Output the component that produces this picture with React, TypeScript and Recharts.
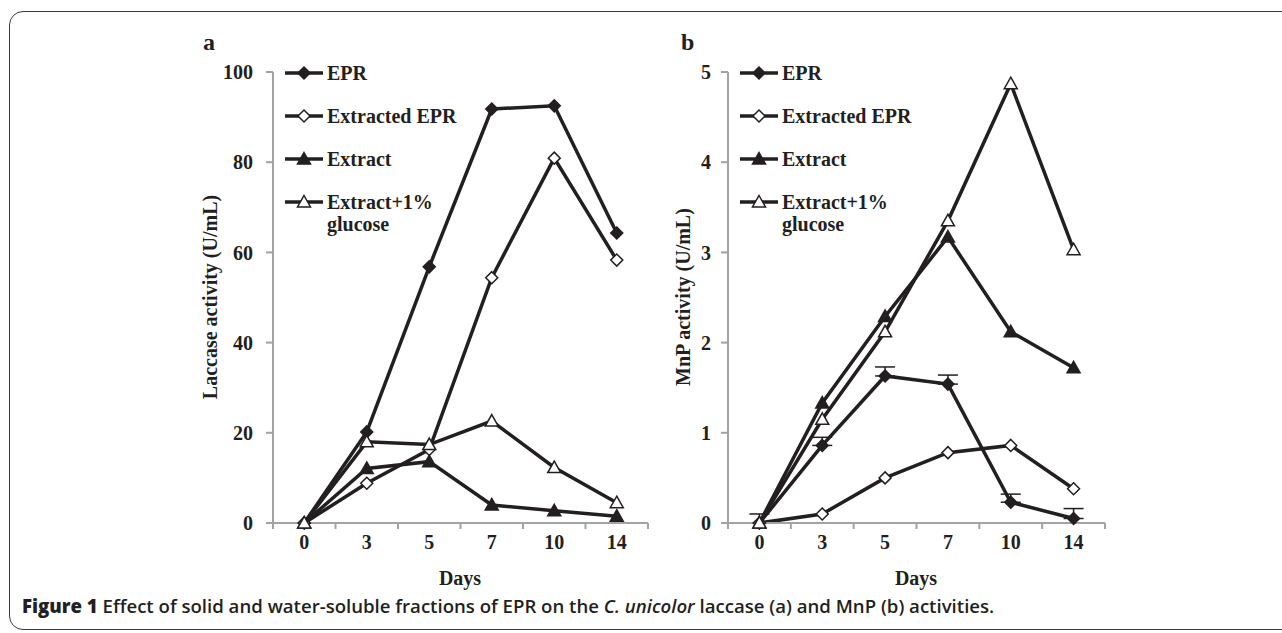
import { ErrorBar, Line, LineChart, XAxis, YAxis } from "recharts";

// Day categories shared by both panels
const days = ["0", "3", "5", "7", "10", "14"];
const seriesNames = ["EPR", "Extracted EPR", "Extract", "Extract+1%\nglucose"];

// (a) laccase activity, U/mL
const laccEpr = [0, 20.2, 56.8, 91.8, 92.5, 64.3];
const laccExtractedEpr = [0, 8.8, 16.3, 54.4, 80.9, 58.3];
const laccExtract = [0, 12.1, 13.6, 4.0, 2.7, 1.5];
const laccGlucose = [0, 18.0, 17.4, 22.6, 12.3, 4.5];
const laccTicks = [0, 20, 40, 60, 80, 100];

// (b) MnP activity, U/mL
const mnpEpr = [0, 0.86, 1.63, 1.54, 0.23, 0.05];
const mnpEprErr = [0.1, 0.09, 0.1, 0.1, 0.09, 0.11];
const mnpExtractedEpr = [0, 0.1, 0.5, 0.78, 0.86, 0.38];
const mnpExtract = [0, 1.33, 2.29, 3.17, 2.12, 1.72];
const mnpGlucose = [0, 1.15, 2.12, 3.35, 4.87, 3.03];
const mnpTicks = [0, 1, 2, 3, 4, 5];

const INK = "#231f20";
const AXIS = "#a3a3a3";
const serif = { fontFamily: "'Liberation Serif', 'Times New Roman', serif", fontWeight: 700 };

const keys = ["epr", "extracted", "extract", "glucose"];
const markers = ["diamond", "diamondOpen", "triangle", "triangleOpen"];

const laccData = days.map((day, i) => ({
  i,
  day,
  epr: laccEpr[i],
  extracted: laccExtractedEpr[i],
  extract: laccExtract[i],
  glucose: laccGlucose[i],
}));

const mnpData = days.map((day, i) => ({
  i,
  day,
  epr: mnpEpr[i],
  eprErr: [0, mnpEprErr[i]],
  extracted: mnpExtractedEpr[i],
  extract: mnpExtract[i],
  glucose: mnpGlucose[i],
}));

// boundaries between categories get tick marks, centres get labels
const xTicks = days.flatMap((_, i) => [i - 0.5, i]).concat(days.length - 0.5);

function Marker({ kind, cx, cy }: { kind: string; cx: number; cy: number }) {
  const open = kind.endsWith("Open");
  const fill = open ? "#fff" : INK;
  if (kind.startsWith("diamond")) {
    const r = 6;
    return (
      <polygon
        points={`${cx},${cy - r} ${cx + r},${cy} ${cx},${cy + r} ${cx - r},${cy}`}
        fill={fill}
        stroke={INK}
        strokeWidth={1.5}
      />
    );
  }
  return (
    <polygon
      points={`${cx},${cy - 6.5} ${cx + 6.5},${cy + 5} ${cx - 6.5},${cy + 5}`}
      fill={fill}
      stroke={INK}
      strokeWidth={1.5}
    />
  );
}

const dotFor = (kind: string) => (p: any) =>
  <Marker key={`${kind}-${p.index}`} kind={kind} cx={p.cx} cy={p.cy} />;

const DayTick = ({ x, y, payload }: any) => {
  const v = payload.value;
  if (!Number.isInteger(v)) {
    return <line x1={x} x2={x} y1={y - 6} y2={y} stroke={AXIS} strokeWidth={2} />;
  }
  return (
    <text x={x} y={y + 6} dy="0.71em" textAnchor="middle" fill={INK} fontSize={20} {...serif}>
      {days[v]}
    </text>
  );
};

function LegendBox({ left, top }: { left: number; top: number }) {
  return (
    <div style={{ position: "absolute", left, top, color: INK, fontSize: 20, ...serif }}>
      {seriesNames.map((name, i) => (
        <div key={name} style={{ display: "flex", alignItems: "flex-start", height: 43 }}>
          <svg width={42} height={22} style={{ flex: "none" }}>
            <line x1={0} x2={38} y1={11} y2={11} stroke={INK} strokeWidth={3.5} />
            <Marker kind={markers[i]} cx={19} cy={11} />
          </svg>
          <span style={{ lineHeight: "22px", whiteSpace: "pre-line" }}>{name}</span>
        </div>
      ))}
    </div>
  );
}

function Panel(props: {
  left: number;
  width: number;
  data: any[];
  ticks: number[];
  max: number;
  tickMargin: number;
  withErrors?: boolean;
}) {
  const { left, width, data, ticks, max, tickMargin, withErrors } = props;
  return (
    <div style={{ position: "absolute", left, top: 0 }}>
      <LineChart width={width} height={633} data={data} margin={{ top: 72, right: 12, bottom: 80, left: 213 }}>
        <XAxis
          type="number"
          dataKey="i"
          domain={[-0.5, days.length - 0.5]}
          ticks={xTicks}
          interval={0}
          height={30}
          tickSize={6}
          tickMargin={0}
          tickLine={false}
          axisLine={{ stroke: AXIS, strokeWidth: 2 }}
          tick={<DayTick />}
        />
        <YAxis
          type="number"
          domain={[0, max]}
          ticks={ticks}
          interval={0}
          width={60}
          tickSize={7}
          tickMargin={tickMargin}
          axisLine={{ stroke: AXIS, strokeWidth: 2 }}
          tickLine={{ stroke: AXIS, strokeWidth: 2 }}
          tick={{ fill: INK, fontSize: 20, ...serif }}
        />
        {keys.map((k, idx) => (
          <Line
            key={k}
            type="linear"
            dataKey={k}
            stroke={INK}
            strokeWidth={3.5}
            dot={dotFor(markers[idx])}
            activeDot={false}
            isAnimationActive={false}
          >
            {withErrors && k === "epr" && (
              <ErrorBar dataKey="eprErr" direction="y" width={10} stroke={INK} strokeWidth={1.5} />
            )}
          </Line>
        ))}
      </LineChart>
    </div>
  );
}

const textAbs = (left: number, top: number, extra: any = {}) => ({
  position: "absolute" as const,
  left,
  top,
  color: INK,
  ...serif,
  ...extra,
});

export default function App() {
  return (
    <div style={{ position: "absolute", left: 0, top: 0, width: 1282, height: 633, overflow: "hidden", background: "#fff" }}>
      <div
        style={{
          position: "absolute",
          left: 9,
          top: 11,
          width: 1300,
          height: 617,
          border: "1.5px solid #3a3a3a",
          borderRadius: 14,
        }}
      />
      <Panel left={0} width={660} data={laccData} ticks={laccTicks} max={100} tickMargin={13} />
      <Panel left={455} width={662} data={mnpData} ticks={mnpTicks} max={5} tickMargin={10} withErrors />

      <LegendBox left={285} top={62} />
      <LegendBox left={740} top={62} />

      <div style={textAbs(203, 29, { fontSize: 24 })}>a</div>
      <div style={textAbs(681, 29, { fontSize: 24 })}>b</div>

      <div
        style={textAbs(210, 297, {
          fontSize: 20,
          whiteSpace: "nowrap",
          transform: "translate(-50%, -50%) rotate(-90deg)",
        })}
      >
        Laccase activity (U/mL)
      </div>
      <div
        style={textAbs(683, 297, {
          fontSize: 20,
          whiteSpace: "nowrap",
          transform: "translate(-50%, -50%) rotate(-90deg)",
        })}
      >
        MnP activity (U/mL)
      </div>

      <div style={textAbs(460, 578, { fontSize: 20, transform: "translate(-50%, -50%)" })}>Days</div>
      <div style={textAbs(916, 578, { fontSize: 20, transform: "translate(-50%, -50%)" })}>Days</div>

      <div
        style={{
          position: "absolute",
          left: 22,
          top: 595,
          fontFamily: "'Open Sans', 'Noto Sans', sans-serif",
          fontSize: 18.6,
          fontWeight: 600,
          lineHeight: "22px",
          color: INK,
          whiteSpace: "nowrap",
        }}
      >
        <span style={{ fontWeight: 800 }}>Figure 1</span> Effect of solid and water-soluble fractions of EPR on the{" "}
        <i>C. unicolor</i> laccase (a) and MnP (b) activities.
      </div>
    </div>
  );
}
